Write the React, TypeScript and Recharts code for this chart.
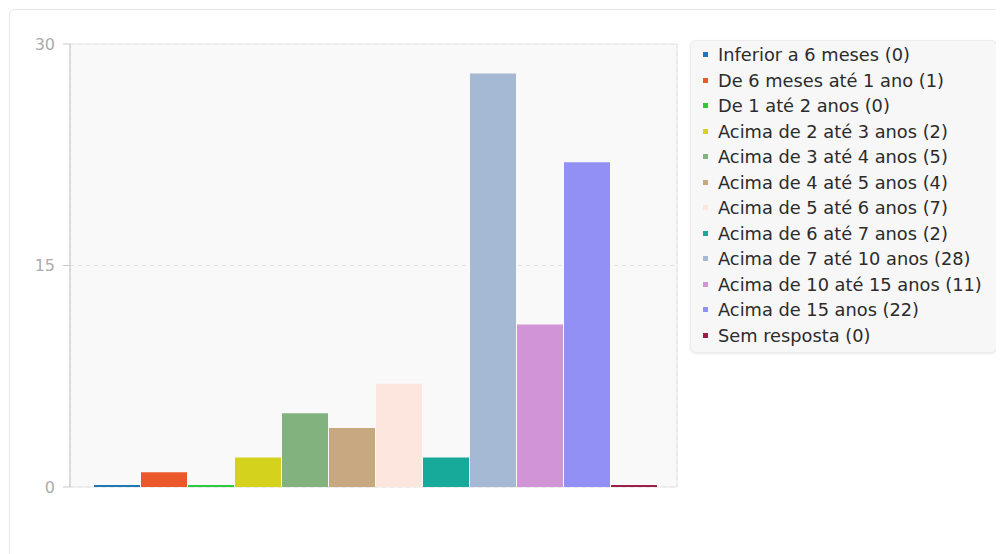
import React from "react";
import {
  BarChart,
  Bar,
  XAxis,
  YAxis,
  CartesianGrid,
  Legend,
  ReferenceArea,
} from "recharts";

// Survey answers: how long respondents have been in the role
const categories: string[] = [
  "Inferior a 6 meses",
  "De 6 meses até 1 ano",
  "De 1 até 2 anos",
  "Acima de 2 até 3 anos",
  "Acima de 3 até 4 anos",
  "Acima de 4 até 5 anos",
  "Acima de 5 até 6 anos",
  "Acima de 6 até 7 anos",
  "Acima de 7 até 10 anos",
  "Acima de 10 até 15 anos",
  "Acima de 15 anos",
  "Sem resposta",
];

const counts: number[] = [0, 1, 0, 2, 5, 4, 7, 2, 28, 11, 22, 0];

const colors: string[] = [
  "#1f77b4",
  "#ea582b",
  "#2ec93c",
  "#d4d21c",
  "#82b37e",
  "#c8a880",
  "#fce6dd",
  "#17a99a",
  "#a6b9d4",
  "#d194d4",
  "#9290f5",
  "#9b1d4a",
];

const yTicks: number[] = [0, 15, 30];

// One category row holding every series value
const row: Record<string, string | number> = { name: "Tempo" };
categories.forEach((_, i) => {
  row[`s${i}`] = counts[i];
});
const data = [row];

const seriesName = (i: number) => `${categories[i]} (${counts[i]})`;

const seriesIndex = (entry: any) =>
  parseInt(String(entry.dataKey || "s0").slice(1), 10);

const LegendBox = (props: any) => {
  // keep the series order rather than the alphabetical one
  const payload: any[] = [...(props.payload || [])].sort(
    (a, b) => seriesIndex(a) - seriesIndex(b)
  );
  return (
    <div style={{ paddingLeft: 13, width: 307 }}>
      <div
        style={{
          background: "#f7f7f7",
          border: "1px solid #ececec",
          borderRadius: 6,
          boxShadow: "0 1px 3px rgba(0,0,0,0.08)",
          padding: "1px 0 4px 12px",
          fontFamily: "'DejaVu Sans', sans-serif",
          fontSize: 17.8,
          color: "#2b2b2b",
        }}
      >
        {payload.map((entry: any, i: number) => (
          <div
            key={i}
            style={{
              display: "flex",
              alignItems: "center",
              height: 25.5,
              whiteSpace: "nowrap",
            }}
          >
            <span
              style={{
                display: "inline-block",
                width: 5,
                height: 5,
                background: entry.color,
                marginRight: 10,
              }}
            />
            <span>{entry.value}</span>
          </div>
        ))}
      </div>
    </div>
  );
};

export default function App() {
  return (
    <div
      style={{
        marginLeft: 1,
        marginTop: 1,
        width: 1000,
        height: 560,
        border: "1px solid #e6e6e6",
        borderRadius: 6,
        background: "#ffffff",
        position: "relative",
      }}
    >
      <BarChart
        width={990}
        height={540}
        data={data}
        margin={{ top: 34, right: 3, bottom: 63, left: 0 }}
        barCategoryGap={24}
        barGap={1}
      >
        <CartesianGrid
          fill="#f9f9f9"
          stroke="#e2e2e2"
          strokeDasharray="4 4"
        />
        <ReferenceArea
          y1={0}
          y2={30}
          fill="none"
          fillOpacity={0}
          stroke="#e6e6e6"
          strokeWidth={1}
          ifOverflow="visible"
        />
        <XAxis
          dataKey="name"
          height={0}
          tick={false}
          tickLine={false}
          axisLine={{ stroke: "#c8c8c8" }}
        />
        <YAxis
          width={60}
          domain={[0, 30]}
          ticks={yTicks}
          tickSize={7}
          tickMargin={8}
          axisLine={{ stroke: "#c8c8c8" }}
          tickLine={{ stroke: "#c8c8c8" }}
          tick={{
            fill: "#acacac",
            fontSize: 16,
            fontFamily: "'DejaVu Sans', sans-serif",
          }}
        />
        <Legend
          layout="vertical"
          align="right"
          verticalAlign="top"
          wrapperStyle={{ top: 30 }}
          content={<LegendBox />}
        />
        {categories.map((_, i) => (
          <Bar
            key={i}
            dataKey={`s${i}`}
            name={seriesName(i)}
            fill={colors[i]}
            minPointSize={2}
            isAnimationActive={false}
          />
        ))}
      </BarChart>
    </div>
  );
}
